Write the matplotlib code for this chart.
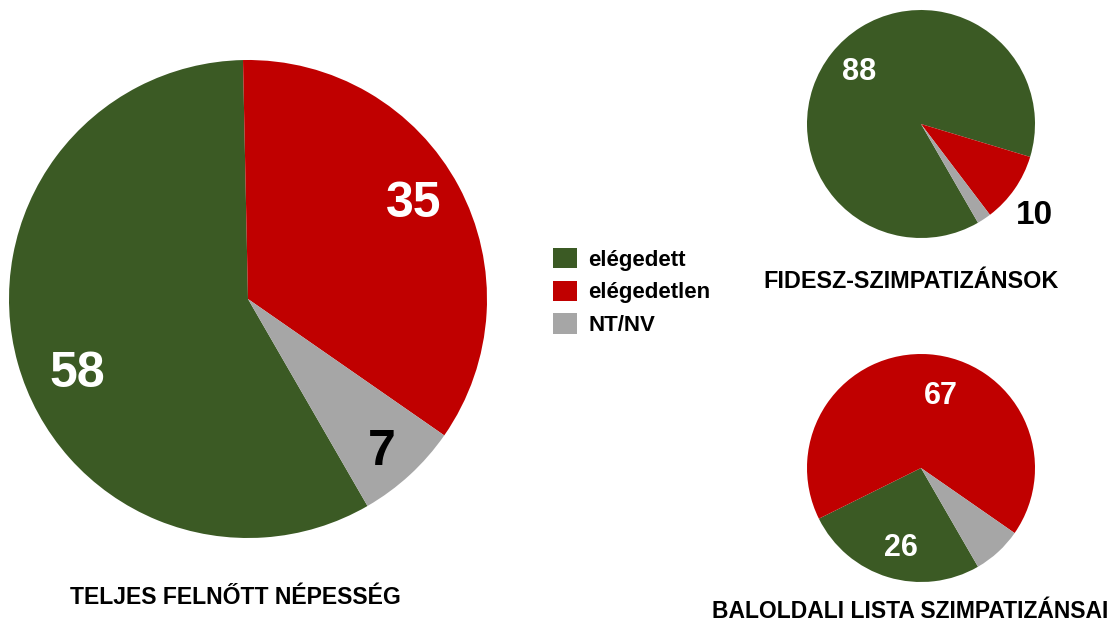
import numpy as np
import matplotlib
matplotlib.use('Agg')
import matplotlib.pyplot as plt
from matplotlib.patches import Patch

# ---- data ----
categories = ['elégedett', 'elégedetlen', 'NT/NV']
colors = ['#3B5A24', '#C00000', '#A6A6A6']

total_vals = [58, 35, 7]
fidesz_vals = [88, 10, 2]
bal_vals = [26, 67, 7]

total_title = 'TELJES FELNŐTT NÉPESSÉG'
fidesz_title = 'FIDESZ-SZIMPATIZÁNSOK'
bal_title = 'BALOLDALI LISTA SZIMPATIZÁNSAI'

NARROW = ['Liberation Sans Narrow', 'Liberation Sans', 'DejaVu Sans']
WIDE = ['Liberation Sans', 'DejaVu Sans']

W, H = 1117, 625
fig = plt.figure(figsize=(W / 100, H / 100), dpi=100)


def pie_axes(cx, cy, r):
    # cx, cy, r in pixels (y from top)
    ax = fig.add_axes([(cx - r) / W, (H - cy - r) / H, 2 * r / W, 2 * r / H])
    ax.set_aspect('equal')
    ax.axis('off')
    return ax


def draw_pie(ax, vals, labels_cfg):
    wedges, _ = ax.pie(vals, colors=colors, startangle=-60, counterclock=False,
                       radius=1, wedgeprops=dict(linewidth=0))
    ax.set_xlim(-1, 1)
    ax.set_ylim(-1, 1)
    for w, v, (show, rr, dang, col, fs) in zip(wedges, vals, labels_cfg):
        if not show:
            continue
        ang = np.deg2rad((w.theta1 + w.theta2) / 2 + dang)
        ax.text(rr * np.cos(ang), rr * np.sin(ang), str(v), ha='center', va='center',
                fontsize=fs, fontweight='bold', color=col, family=WIDE)


# big pie
ax1 = pie_axes(248, 299, 239)
draw_pie(ax1, total_vals,
         [(True, 0.78, 8, 'white', 36), (True, 0.80, 1.5, 'white', 36),
          (True, 0.85, -1.5, 'black', 36)])
fig.text(235 / W, 1 - 598 / H, total_title, ha='center', va='center',
         fontsize=16.6, fontweight='bold', family=NARROW)

# Fidesz pie
ax2 = pie_axes(921, 124, 114)
draw_pie(ax2, fidesz_vals,
         [(True, 0.71, -2, 'white', 22), (True, 1.28, -4, 'black', 24),
          (False, 0, 0, 'black', 22)])
fig.text(911 / W, 1 - 282 / H, fidesz_title, ha='center', va='center',
         fontsize=16.8, fontweight='bold', family=NARROW)

# Baloldal pie
ax3 = pie_axes(921, 468, 114)
draw_pie(ax3, bal_vals,
         [(True, 0.72, 3, 'white', 22), (True, 0.65, -11, 'white', 22),
          (False, 0, 0, 'black', 22)])
fig.text(910 / W, 1 - 611 / H, bal_title, ha='center', va='center',
         fontsize=16.5, fontweight='bold', family=NARROW)

# legend
handles = [Patch(facecolor=c, edgecolor='none') for c in colors]
leg = fig.legend(handles, categories, loc='center left', bbox_to_anchor=(533 / W, 1 - 292 / H),
                 frameon=False, prop=dict(family=NARROW, weight='bold', size=16),
                 handlelength=1.1, handleheight=1.05, handletextpad=0.5, labelspacing=0.45)

plt.savefig('out.png', dpi=100)
plt.close()
